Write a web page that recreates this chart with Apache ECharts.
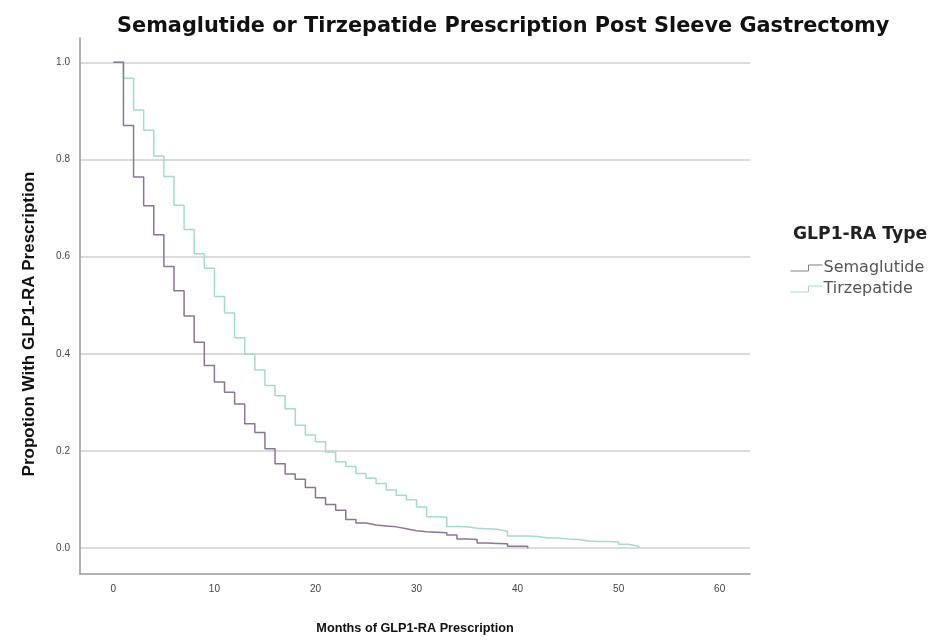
<!DOCTYPE html>
<html>
<head>
<meta charset="utf-8">
<script src="https://cdn.jsdelivr.net/npm/echarts@6/dist/echarts.min.js"></script>
<style>
html,body{margin:0;padding:0;background:#fff;}
#chart{width:941px;height:640px;}
</style>
</head>
<body>
<div id="chart"></div>
<script>
const months = [0,1,2,3,4,5,6,7,8,9,10,11,12,13,14,15,16,17,18,19,20,21,22,23,24,25,26,27,28,29,30,31,32,33,34,35,36,37,38,39,40,41,42,43,44,45,46,47,48,49,50,51,52];
const semaglutide = [1.0,0.87,0.764,0.705,0.645,0.58,0.53,0.478,0.424,0.376,0.342,0.321,0.297,0.256,0.238,0.205,0.174,0.153,0.142,0.125,0.104,0.09,0.078,0.059,0.052,0.048,0.046,0.044,0.04,0.036,0.034,0.033,0.032,0.027,0.019,0.018,0.011,0.010,0.009,0.004,0.004,0.0];
const tirzepatide = [1.0,0.967,0.902,0.86,0.807,0.765,0.706,0.656,0.606,0.576,0.518,0.484,0.433,0.399,0.367,0.335,0.314,0.287,0.253,0.233,0.219,0.198,0.178,0.168,0.154,0.144,0.133,0.12,0.109,0.1,0.085,0.065,0.064,0.045,0.044,0.041,0.040,0.039,0.035,0.025,0.025,0.024,0.021,0.021,0.019,0.018,0.015,0.014,0.014,0.013,0.008,0.004,0.0];
const xTicks = [0,10,20,30,40,50,60];
const yTicks = [0,0.2,0.4,0.6,0.8,1.0];
const seriesNames = ['Semaglutide','Tirzepatide'];
const colors = ['#8a7696','#a2dec4'];

function pairs(vals){ return vals.map((v,i)=>[months[i], v]); }

const FONT = '"Liberation Sans", Arial, sans-serif';
const WIDE = '"DejaVu Sans", "Liberation Sans", sans-serif';
const chart = echarts.init(document.getElementById('chart'), null, {renderer:'canvas'});
const stepIcon = 'path://M0,6 L18,6 L18,0 L32,0';
chart.setOption({
  animation:false,
  backgroundColor:'#fff',
  title:[
    {text:'Semaglutide or Tirzepatide Prescription Post Sleeve Gastrectomy', left:112, top:11,
     textStyle:{fontFamily:WIDE, fontWeight:'bold', fontSize:20.85, color:'#111'}},
    {text:'GLP1-RA Type', left:788, top:221,
     textStyle:{fontFamily:WIDE, fontWeight:'bold', fontSize:17.2, color:'#222'}}
  ],
  legend:{
    orient:'vertical', left:785, top:255, itemWidth:32, itemHeight:6, itemGap:5,
    textStyle:{fontFamily:WIDE, fontSize:16, lineHeight:16, color:'#555', padding:[0,0,0,-4]},
    data: seriesNames.map((n,i)=>({name:n, icon:stepIcon,
      itemStyle:{color:'transparent', borderColor:colors[i], borderWidth:1}}))
  },
  grid:{left:80, right:191, top:38, bottom:62, containLabel:false},
  xAxis:{
    type:'value', min:-3.3, max:63,
    name:'Months of GLP1-RA Prescription', nameLocation:'middle', nameGap:48,
    nameTextStyle:{fontFamily:FONT, fontWeight:'bold', fontSize:12.7, color:'#111'},
    axisLine:{show:true, onZero:false, lineStyle:{color:'#999', width:1.5}},
    axisTick:{show:false, customValues:xTicks},
    axisLabel:{customValues:xTicks, fontFamily:FONT, fontSize:10, color:'#444', margin:10},
    splitLine:{show:false}
  },
  yAxis:{
    type:'value', min:-0.053, max:1.05,
    name:'Propotion With GLP1-RA Prescription', nameLocation:'middle', nameGap:42,
    nameTextStyle:{fontFamily:FONT, fontWeight:'bold', fontSize:17, color:'#111', padding:[0,36,0,0]},
    axisLine:{show:true, onZero:false, lineStyle:{color:'#999', width:1.5}},
    axisTick:{show:false, customValues:yTicks},
    axisLabel:{customValues:yTicks, fontFamily:FONT, fontSize:10, color:'#444', margin:10,
      formatter:v=>v.toFixed(1)},
    splitLine:{show:true, lineStyle:{color:'#cfcfcf', width:1.5}}
  },
  series:[
    {name:seriesNames[0], type:'line', step:'end', showSymbol:false, symbol:'none',
     data:pairs(semaglutide), lineStyle:{color:colors[0], width:1.5}, itemStyle:{color:colors[0]}, z:3},
    {name:seriesNames[1], type:'line', step:'end', showSymbol:false, symbol:'none',
     data:pairs(tirzepatide), lineStyle:{color:colors[1], width:1.5}, itemStyle:{color:colors[1]}, z:2}
  ]
});
</script>
</body>
</html>
